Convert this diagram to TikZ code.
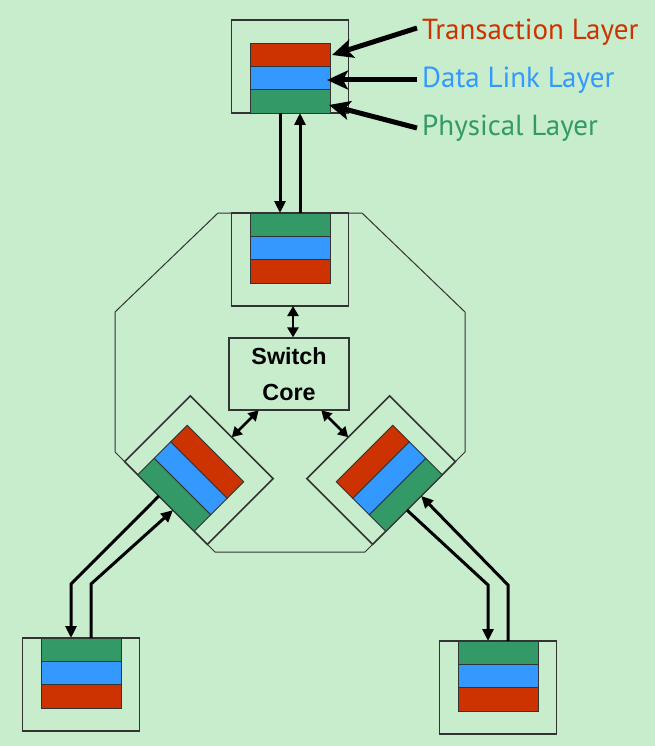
\documentclass[tikz,border=0pt]{standalone}
\usepackage{fontspec}
\setmainfont{Liberation Sans}
\newfontfamily\labelfont{PT Sans}
\usetikzlibrary{arrows.meta}
\definecolor{bg}{HTML}{C8EDCC}
\definecolor{lred}{HTML}{CC3300}
\definecolor{lblue}{HTML}{3399FF}
\definecolor{lgreen}{HTML}{339966}
\definecolor{edgecol}{HTML}{333333}
\tikzset{
  portbox/.style={draw=edgecol, line width=1.6pt, fill=bg},
  layer/.style={draw=black!80, line width=0.9pt},
  octo/.style={draw=edgecol, line width=1pt},
  corebox/.style={draw=edgecol, line width=1.2pt, fill=bg, minimum width=120pt, minimum height=72pt,
    inner sep=0pt, align=center, font=\bfseries\fontsize{23.3}{36}\selectfont},
  link/.style={draw=black, line width=3pt, -{Triangle[length=12pt,width=11pt]}},
  dbl/.style={draw=black, line width=2.5pt, {Triangle[length=10pt,width=11pt]}-{Triangle[length=10pt,width=11pt]}},
  lablink/.style={draw=black, line width=5pt, -{Stealth[length=21pt,width=19pt,inset=5pt]}},
  lbl/.style={anchor=base west, inner sep=0pt, font=\labelfont\fontsize{29}{32}\selectfont}
}
\newcommand\drawport[4]{%
  \begin{scope}[shift={(#2,#3)}, rotate=#4]
    \path[portbox] (-58.5,0) rectangle (58.5,93);
    \path[layer, fill=lgreen] (-40,0) rectangle (40,23.3);
    \path[layer, fill=lblue] (-40,23.3) rectangle (40,46.7);
    \path[layer, fill=lred] (-40,46.7) rectangle (40,70);
    \coordinate (#1-l) at (-10,0);
    \coordinate (#1-r) at (10,0);
    \coordinate (#1-i) at (0,93);
    \coordinate (#1-c) at (0,131);
  \end{scope}}
\begin{document}
\begin{tikzpicture}[x=1pt, y=-1pt]
  \fill[bg] (0,0) rectangle (655,746);
  \useasboundingbox (0,0) rectangle (655,746);
  % switch outline
  \draw[octo] (218,213) -- (362,213) -- (465,312) -- (465,452) -- (365,552)
     -- (215,552) -- (115,452) -- (115,312) -- cycle;
  % ports
  \drawport{T}{290}{113}{180}
  \drawport{S0}{290}{213}{0}
  \drawport{S1}{166}{503}{135}
  \drawport{S2}{414}{503}{225}
  \drawport{BL}{81}{638}{0}
  \drawport{BR}{498}{641}{0}
  % switch core
  \node[corebox] (core) at (289,374) {Switch\\Core};
  % internal links
  \coordinate (s0a) at ([xshift=3pt]S0-i);
  \draw[dbl] (s0a) -- (s0a |- core.north);
  \draw[dbl] (S1-i) -- (S1-c);
  \draw[dbl] (S2-i) -- (S2-c);
  % bends
  \coordinate (bl1) at (71,584);
  \coordinate (bl2) at (91,584);
  \coordinate (br1) at (488,585);
  \coordinate (br2) at (508,585);
  % external links
  \draw[link] (T-r) -- (S0-l);
  \draw[link] (S0-r) -- (T-l);
  \draw[link] (S1-r) -- (bl1) -- (BL-l);
  \draw[link] (BL-r) -- (bl2) -- (S1-l);
  \draw[link] (S2-r) -- (br1) -- (BR-l);
  \draw[link] (BR-r) -- (br2) -- (S2-l);
  % labels
  \node[lbl, text=lred] (tl) at (422,40) {Transaction Layer};
  \node[lbl, text=lblue] (dl) at (422,88) {Data Link Layer};
  \node[lbl, text=lgreen] (pl) at (422,136) {Physical Layer};
  \coordinate (ta) at (417,28);
  \coordinate (tt) at (332,55);
  \coordinate (da) at (417,80);
  \coordinate (dt) at (327,80);
  \coordinate (pa) at (417,128);
  \coordinate (pht) at (329,105);
  \draw[lablink] (ta) -- (tt);
  \draw[lablink] (da) -- (dt);
  \draw[lablink] (pa) -- (pht);
\end{tikzpicture}
\end{document}
